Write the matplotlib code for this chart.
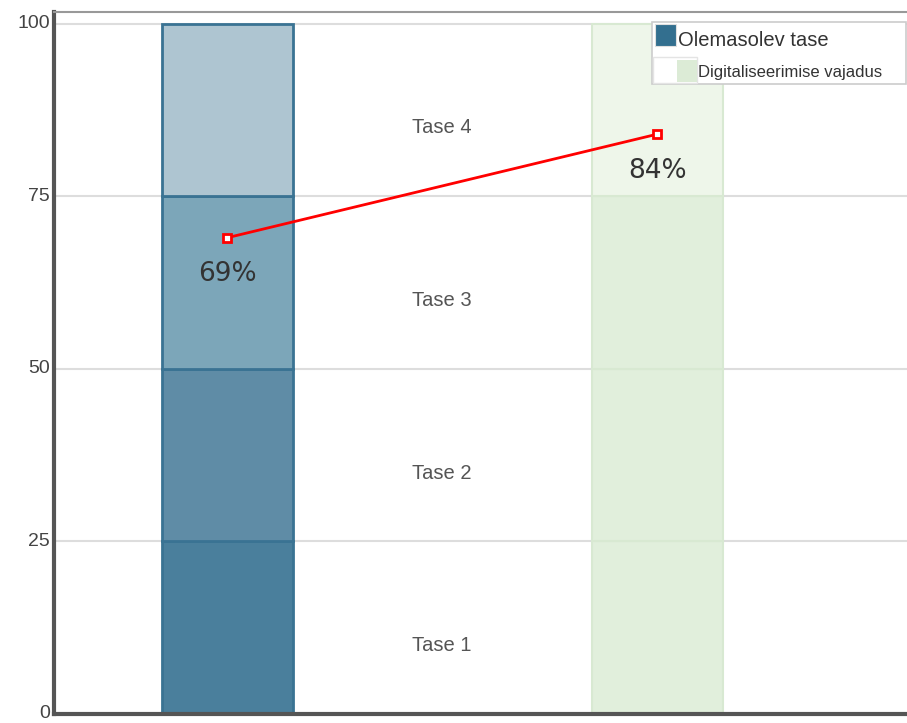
import matplotlib.pyplot as plt
from matplotlib.patches import Rectangle

plt.rcParams['font.family'] = ['Liberation Sans', 'DejaVu Sans']

# data
categories = ['Olemasolev tase', 'Digitaliseerimise vajadus']
levels = ['Tase 1', 'Tase 2', 'Tase 3', 'Tase 4']
segment = [25, 25, 25, 25]
line_vals = [69, 84]
line_labels = ['69%', '84%']

cols_now = ['#4a7f9c', '#5f8ca6', '#7ca6b9', '#aec5d1']
cols_need = ['#e1efdc', '#e1efdc', '#e1efdc', '#eef6ea']

W, H = 907, 723
fig = plt.figure(figsize=(W / 100, H / 100), dpi=100)
ax = fig.add_axes([54 / W, 9 / H, 853 / W, 702 / H])

x = [0, 1]
bottom = 0
for i in range(len(levels)):
    ax.bar(x[0], segment[i], bottom=bottom, width=0.305, color=cols_now[i],
           edgecolor='#3a7393', linewidth=2, zorder=2)
    ax.bar(x[1], segment[i], bottom=bottom, width=0.305, color=cols_need[i],
           edgecolor='#d8e9d2', linewidth=1.5, zorder=2)
    ax.text(0.5, bottom + segment[i] / 2 - 2.6, levels[i], ha='center', va='center',
            fontsize=14.5, color='#555555')
    bottom += segment[i]

ax.plot(x, line_vals, color='#ff0000', linewidth=2, marker='s', markersize=6,
        markerfacecolor='white', markeredgecolor='#ff0000', markeredgewidth=2, zorder=4)
for xi, v, lab in zip(x, line_vals, line_labels):
    ax.text(xi, v - 5.3, lab, ha='center', va='center', fontsize=19,
            color='#333333', family=['DejaVu Sans'], zorder=5)

ax.set_xlim(-0.403, 1.581)
ax.set_ylim(0, 101.7)
ax.set_yticks([0, 25, 50, 75, 100])
ax.set_xticks([])
ax.yaxis.grid(True, color='#dddddd', linewidth=1.5, zorder=0)
ax.set_axisbelow(True)
ax.tick_params(axis='y', length=0, labelsize=14, labelcolor='#444444', pad=3)
for lab in ax.get_yticklabels():
    lab.set_va('center')

ax.spines['right'].set_visible(False)
ax.spines['top'].set_color('#999999')
ax.spines['top'].set_linewidth(1.5)
ax.spines['left'].set_color('#555555')
ax.spines['left'].set_linewidth(3)
ax.spines['bottom'].set_color('#555555')
ax.spines['bottom'].set_linewidth(3)


# legend drawn by hand, in figure pixels (top-left origin)
def box(x0, y0, x1, y1, **kw):
    fig.patches.append(Rectangle((x0 / W, 1 - y1 / H), (x1 - x0) / W, (y1 - y0) / H,
                                 transform=fig.transFigure, **kw))


box(652, 22, 906, 84, facecolor='white', edgecolor='#cccccc', linewidth=1.2, zorder=10)
box(653, 57, 697, 83, facecolor='white', edgecolor='#e4e4e4', linewidth=1, zorder=11)
box(655, 24, 676, 46, facecolor='#336f8f', edgecolor='#e0e0e0', linewidth=0.8, zorder=12)
box(677, 60, 697, 82, facecolor='#dcebd6', edgecolor='none', zorder=12)
fig.text(678 / W, 1 - 41 / H, categories[0], ha='left', va='center',
         fontsize=14.5, color='#333333', zorder=13)
fig.text(698 / W, 1 - 73 / H, categories[1], ha='left', va='center',
         fontsize=12, color='#333333', zorder=13)

fig.savefig('out.png', dpi=100)
